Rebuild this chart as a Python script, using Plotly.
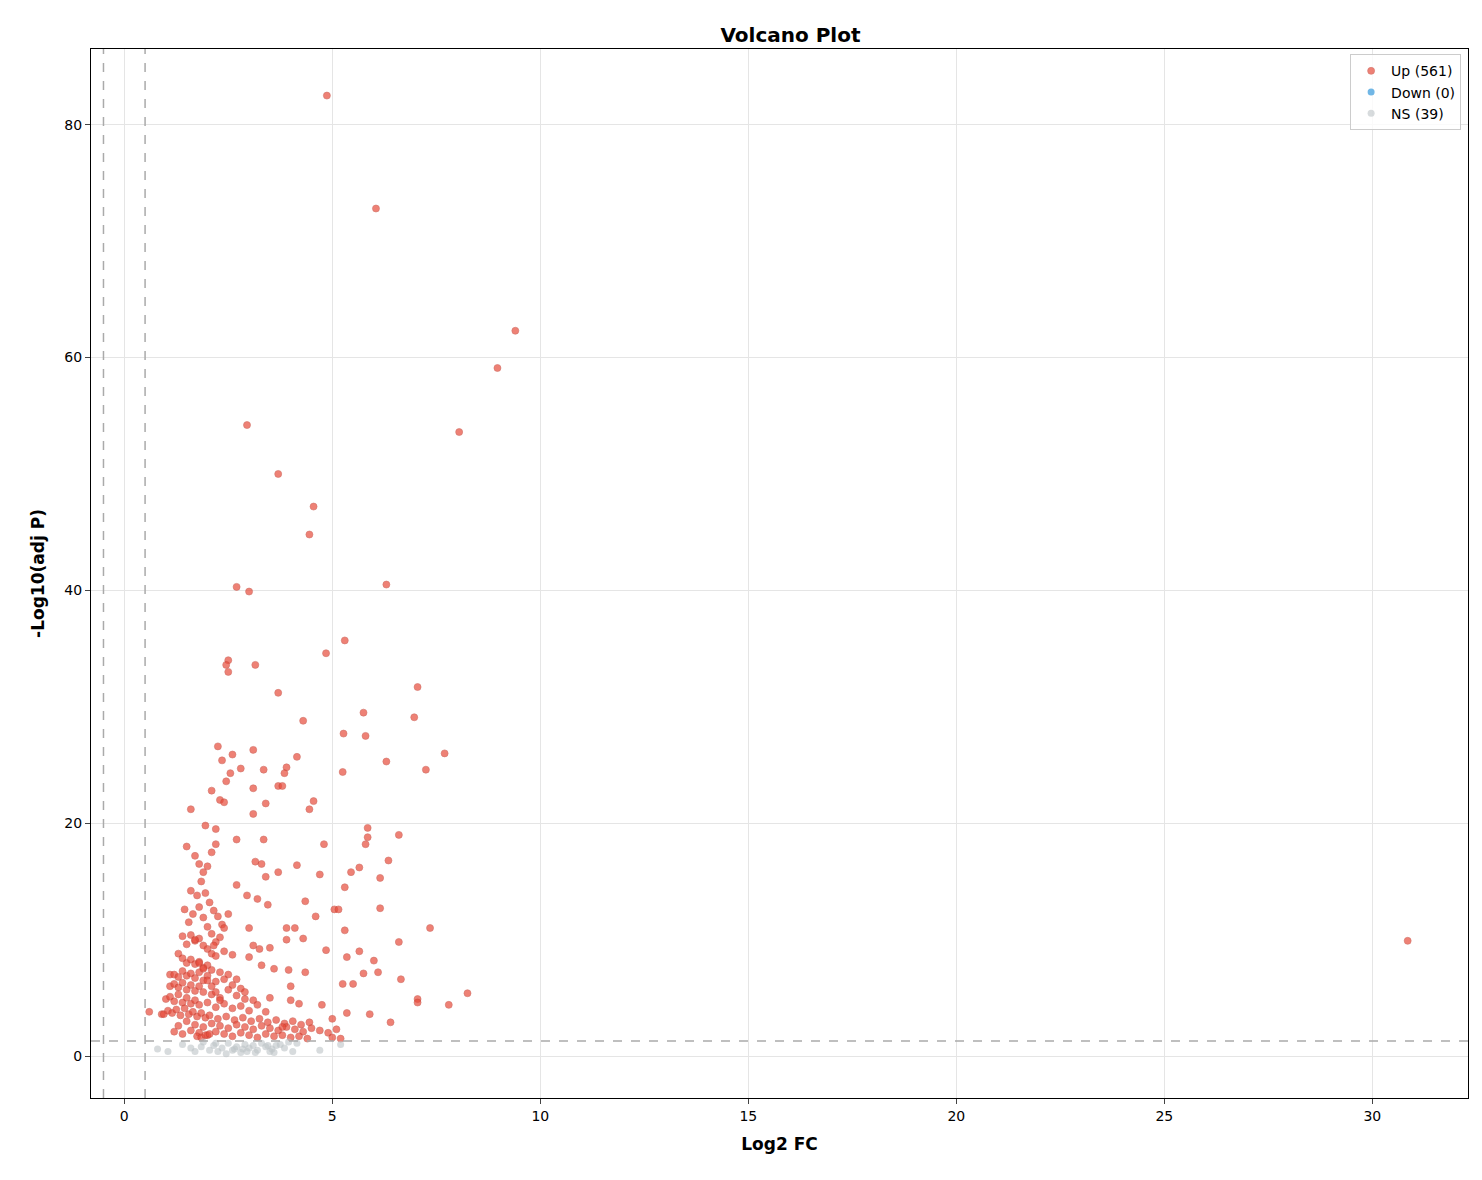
import plotly.graph_objects as go

# Up-regulated points (log2 FC, -log10 adj P)
up_x = [4.87, 6.05, 9.4, 8.97, 2.95, 8.05, 3.7, 4.55, 4.45, 2.7, 3.0, 6.3, 5.3, 4.85, 2.5, 2.45, 3.15, 2.5,
        7.05, 3.7, 6.97, 4.3, 5.75, 5.27, 5.8, 2.25, 3.1, 2.6, 4.15, 7.7, 6.3, 2.35, 3.35, 2.8, 3.9, 7.25,
        5.25, 2.55, 3.85, 3.7, 3.8, 2.45, 2.1, 3.1, 4.55, 3.4, 1.6, 4.45, 3.1, 5.85, 1.95, 2.2, 6.6, 5.85,
        3.35, 4.8, 5.8, 2.7, 6.35, 5.65, 4.15, 3.15, 3.3, 3.7, 4.7, 5.45, 6.15, 3.4, 5.3, 2.7, 2.95, 3.45,
        4.35, 5.05, 5.15, 6.15, 4.6, 7.35, 3.0, 4.1, 5.3, 3.9, 4.3, 6.6, 30.85, 4.85, 5.65, 3.5, 6.0, 5.35,
        3.95, 5.75, 6.1, 6.65, 5.25, 4.35, 7.05, 7.05, 8.25, 7.8, 6.4, 5.9, 5.35, 4.75, 0.6, 0.9, 1.1,
        # dense cluster
        1.5, 1.7, 1.8, 1.9, 2.0, 2.1, 2.2, 2.3, 2.4, 1.6, 1.75, 1.85, 1.95, 2.05, 2.15, 2.25, 2.35, 1.45,
        1.55, 1.65, 1.8, 1.9, 2.0, 2.1, 2.2, 2.3, 1.4, 1.5, 1.6, 1.7, 1.8, 1.9, 2.0, 2.1, 2.2, 2.4, 2.6,
        1.3, 1.4, 1.5, 1.6, 1.7, 1.8, 1.9, 2.0, 2.1, 2.3, 2.5, 2.7, 1.2, 1.3, 1.4, 1.5, 1.6, 1.7, 1.8, 1.9,
        2.0, 2.2, 2.4, 2.6, 2.8, 1.1, 1.2, 1.3, 1.4, 1.5, 1.6, 1.7, 1.8, 1.9, 2.1, 2.3, 2.5, 2.7, 2.9, 3.1,
        1.0, 1.1, 1.2, 1.3, 1.4, 1.5, 1.6, 1.7, 1.8, 2.0, 2.2, 2.4, 2.6, 2.8, 3.0, 3.2, 3.4, 0.95, 1.05,
        1.15, 1.25, 1.35, 1.45, 1.55, 1.65, 1.75, 1.85, 1.95, 2.05, 2.25, 2.45, 2.65, 2.85, 3.05, 3.25,
        3.45, 3.65, 3.85, 4.05, 4.25, 4.45, 1.3, 1.5, 1.7, 1.9, 2.1, 2.3, 2.5, 2.7, 2.9, 3.1, 3.3, 3.5,
        3.7, 3.9, 4.1, 4.3, 4.5, 4.7, 4.9, 5.1, 1.2, 1.4, 1.6, 1.8, 2.0, 2.2, 2.4, 2.6, 2.8, 3.0, 3.2,
        3.4, 3.6, 3.8, 4.0, 4.2, 4.4, 5.0, 5.2, 1.75, 1.85, 1.95, 2.05, 2.15, 1.7, 1.8, 1.9, 2.0, 2.1,
        2.2, 2.3, 2.5, 2.4, 3.2, 3.3, 3.0, 3.1, 3.9, 4.0, 2.9, 3.6, 3.5, 4.2, 5.5, 5.0, 4.0, 3.8, 3.25]
up_y = [82.5, 72.8, 62.3, 59.1, 54.2, 53.6, 50.0, 47.2, 44.8, 40.3, 39.9, 40.5, 35.7, 34.6, 34.0, 33.6, 33.6, 33.0,
        31.7, 31.2, 29.1, 28.8, 29.5, 27.7, 27.5, 26.6, 26.3, 25.9, 25.7, 26.0, 25.3, 25.4, 24.6, 24.7, 24.8, 24.6,
        24.4, 24.3, 24.3, 23.2, 23.2, 23.6, 22.8, 23.0, 21.9, 21.7, 21.2, 21.2, 20.8, 19.6, 19.8, 19.5, 19.0, 18.8,
        18.6, 18.2, 18.2, 18.6, 16.8, 16.2, 16.4, 16.7, 16.5, 15.8, 15.6, 15.8, 15.3, 15.4, 14.5, 14.7, 13.8, 13.0,
        13.3, 12.6, 12.6, 12.7, 12.0, 11.0, 11.0, 11.0, 10.8, 11.0, 10.1, 9.8, 9.9, 9.1, 9.0, 9.3, 8.2, 8.5,
        7.4, 7.1, 7.2, 6.6, 6.2, 7.2, 4.9, 4.6, 5.4, 4.4, 2.9, 3.6, 3.7, 4.4, 3.8, 3.6, 7.0,
        18.0, 17.2, 16.5, 15.8, 16.3, 17.5, 18.2, 22.0, 21.8, 14.2, 13.8, 15.0, 14.0, 13.2, 12.5, 12.0, 11.3, 12.6,
        11.5, 12.2, 12.8, 11.9, 11.1, 10.5, 9.8, 10.2, 10.3, 9.6, 10.4, 9.9, 10.1, 9.5, 9.2, 8.8, 8.6, 9.0, 8.7,
        8.8, 8.4, 8.0, 8.3, 7.9, 8.1, 7.6, 7.8, 7.4, 7.2, 7.0, 6.6, 7.0, 6.8, 7.3, 6.9, 7.1, 6.7, 7.2, 6.5,
        6.9, 6.4, 6.6, 6.1, 5.8, 6.0, 6.2, 5.9, 6.3, 5.7, 6.1, 5.6, 6.0, 5.5, 5.3, 5.0, 5.7, 5.2, 4.9, 4.8,
        4.9, 5.1, 4.7, 5.3, 4.6, 5.0, 4.5, 4.8, 4.4, 4.6, 4.2, 4.5, 4.1, 4.3, 3.9, 4.4, 3.8, 3.6, 3.9,
        3.7, 4.0, 3.5, 4.1, 3.6, 3.8, 3.4, 3.7, 3.3, 3.5, 3.2, 3.4, 3.1, 3.3, 3.0, 3.2, 2.9,
        3.1, 2.8, 3.0, 2.7, 2.9, 2.6, 3.0, 2.7, 2.5, 2.8, 2.6, 2.4, 2.7, 2.5, 2.3, 2.6, 2.4, 2.2, 2.5,
        2.3, 2.1, 2.4, 2.2, 2.0, 2.3, 2.1, 1.9, 2.2, 2.0, 1.8, 2.1, 1.9, 1.7, 2.0, 1.8, 1.6, 1.9, 1.7,
        1.8, 1.6, 1.7, 1.5, 1.6, 1.5, 1.7, 1.6, 1.8, 1.9, 9.5, 10.0, 8.0, 7.5, 6.5, 6.0, 5.5, 4.8, 12.2,
        11.0, 13.5, 7.8, 8.5, 9.5, 10.0, 6.0, 5.5, 7.5, 5.0, 4.5, 6.2, 3.2, 4.8, 2.5, 9.2]

# Not significant points
ns_x = [0.8, 1.05, 1.4, 1.7, 1.9, 2.05, 2.15, 2.25, 2.35, 2.5, 2.6, 2.7, 2.8, 2.85, 2.9, 2.95, 3.0, 3.1,
        3.2, 3.3, 3.4, 3.5, 3.55, 3.6, 3.65, 3.75, 3.85, 3.95, 4.05, 4.15, 4.7, 5.2, 1.85, 2.2, 2.65, 3.15,
        3.45, 2.45, 1.6]
ns_y = [0.6, 0.4, 1.0, 0.4, 1.2, 0.5, 0.9, 0.4, 0.7, 1.1, 0.5, 0.8, 0.3, 0.6, 1.0, 0.4, 0.7, 0.9,
        0.5, 1.1, 0.8, 0.4, 0.6, 0.3, 0.9, 1.0, 0.7, 1.2, 0.4, 1.1, 0.5, 1.0, 0.8, 1.1, 0.6, 0.3,
        0.9, 0.2, 0.7]

fig = go.Figure()
fig.add_trace(go.Scatter(x=up_x, y=up_y, mode="markers", name="Up (561)",
                         marker=dict(color="#e74c3c", opacity=0.7, size=7,
                                     line=dict(color="#c0392b", width=0.6))))
# no down-regulated genes; a None point keeps the legend entry
fig.add_trace(go.Scatter(x=[None], y=[None], mode="markers", name="Down (0)",
                         marker=dict(color="#3498db", opacity=0.7, size=7)))
fig.add_trace(go.Scatter(x=ns_x, y=ns_y, mode="markers", name="NS (39)",
                         marker=dict(color="#bdc3c7", opacity=0.6, size=7)))

for xv in (-0.5, 0.5):
    fig.add_vline(x=xv, line=dict(color="#aaaaaa", dash="dash", width=1.5))
fig.add_hline(y=1.3, line=dict(color="#aaaaaa", dash="dash", width=1.5))

axis = dict(showline=True, linecolor="black", mirror=True, ticks="outside",
            gridcolor="#e5e5e5", zeroline=False, tickfont=dict(size=14, color="black"))
fig.update_layout(
    width=1482, height=1180, plot_bgcolor="white", paper_bgcolor="white",
    font=dict(family="DejaVu Sans", color="black"),
    title=dict(text="<b>Volcano Plot</b>", x=0.528, y=0.983, font=dict(size=20)),
    margin=dict(l=83, r=22, t=41, b=90, autoexpand=False),
    xaxis=dict(axis, title=dict(text="<b>Log2 FC</b>", font=dict(size=17)),
               range=[-0.8, 32.3], tickvals=[0, 5, 10, 15, 20, 25, 30]),
    yaxis=dict(axis, title=dict(text="<b>-Log10(adj P)</b>", font=dict(size=17)),
               range=[-3.6, 86.5], tickvals=[0, 20, 40, 60, 80]),
    legend=dict(x=0.995, y=0.995, xanchor="right", yanchor="top", bordercolor="#cccccc",
                borderwidth=1, font=dict(size=14), bgcolor="rgba(255,255,255,0.8)"),
)
fig.write_html("out.html")
